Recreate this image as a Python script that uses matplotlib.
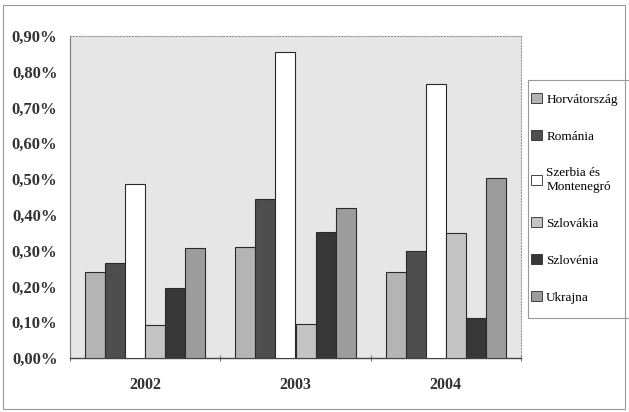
import numpy as np
import matplotlib.pyplot as plt
from matplotlib.patches import Rectangle, Patch

# adatok (%)
years = ["2002", "2003", "2004"]
countries = ["Horvátország", "Románia", "Szerbia és\nMontenegró",
             "Szlovákia", "Szlovénia", "Ukrajna"]
horvat = [0.24, 0.31, 0.24]
romania = [0.265, 0.445, 0.30]
szerbia = [0.485, 0.855, 0.765]
szlovakia = [0.092, 0.095, 0.348]
szlovenia = [0.195, 0.352, 0.112]
ukrajna = [0.308, 0.418, 0.503]
yticks = [0.0, 0.1, 0.2, 0.3, 0.4, 0.5, 0.6, 0.7, 0.8, 0.9]

series = [horvat, romania, szerbia, szlovakia, szlovenia, ukrajna]
colors = ["#b4b4b4", "#4e4e4e", "#ffffff", "#c4c4c4", "#383838", "#9c9c9c"]

plt.rcParams['font.family'] = ['Liberation Serif', 'DejaVu Serif']

fig = plt.figure(figsize=(6.29, 4.12), dpi=100)
ax = fig.add_axes([70 / 629, 1 - 358 / 412, 451 / 629, 322 / 412])
ax.set_facecolor("#e6e6e6")

x = np.arange(len(years))
w = 0.8 / 6
for i, (vals, c) in enumerate(zip(series, colors)):
    ax.bar(x - 0.4 + w * (i + 0.5), vals, width=w, color=c,
           edgecolor="#2a2a2a", linewidth=0.8, zorder=3)

ax.set_xlim(-0.5, 2.5)
ax.set_ylim(0, 0.9)
ax.set_yticks(yticks)
ax.set_yticklabels([f"{v:.2f}%".replace(".", ",") for v in yticks],
                   fontsize=12, fontweight="bold", color="#333333")
ax.tick_params(axis="y", length=0, pad=9)

ax.set_xticks(x)
ax.set_xticklabels(years, fontsize=11.5, fontweight="bold", color="#333333")
ax.set_xticks([-0.5, 0.5, 1.5, 2.5], minor=True)
ax.tick_params(axis="x", which="major", length=0, pad=14)
ax.tick_params(axis="x", which="minor", length=5, direction="inout",
               color="#555555")

for s in ["top", "right"]:
    ax.spines[s].set_color("#999999")
    ax.spines[s].set_linestyle(":")
    ax.spines[s].set_linewidth(0.8)
ax.spines["left"].set_color("#777777")
ax.spines["bottom"].set_color("#444444")
ax.spines["bottom"].set_linewidth(1.0)

# jelmagyarázat, keret külön
handles = [Patch(facecolor=c, edgecolor="#2a2a2a", linewidth=0.6)
           for c in colors]
fig.legend(handles, countries, loc="upper left",
           bbox_to_anchor=(531 / 629, 1 - 93 / 412),
           frameon=False, fontsize=9.5, labelspacing=1.85,
           handlelength=0.8, handleheight=0.8, handletextpad=0.35,
           borderpad=0, borderaxespad=0)
fig.patches.append(Rectangle((528 / 629, 1 - 318 / 412), 110 / 629, 238 / 412,
                             transform=fig.transFigure, fill=False,
                             edgecolor="#999999", linewidth=0.8))

# külső keret
fig.patches.append(Rectangle((3 / 629, 3 / 412), 622 / 629, 404 / 412,
                             transform=fig.transFigure, fill=False,
                             edgecolor="#999999", linewidth=0.8))

fig.savefig("out.png", dpi=100)
